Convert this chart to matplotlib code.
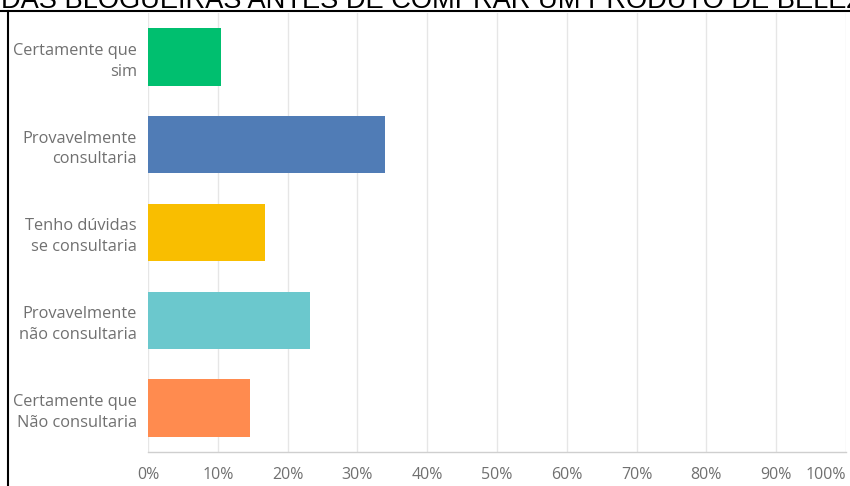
import matplotlib
matplotlib.use("Agg")
import matplotlib.pyplot as plt
from matplotlib.lines import Line2D

categories = [
    "Certamente que\nsim",
    "Provavelmente\nconsultaria",
    "Tenho dúvidas\nse consultaria",
    "Provavelmente\nnão consultaria",
    "Certamente que\nNão consultaria",
]
values = [10.5, 34.0, 16.8, 23.2, 14.6]
colors = ["#00BF6F", "#507CB6", "#F9BE00", "#6BC8CD", "#FF8B4F"]
xticks = [0, 10, 20, 30, 40, 50, 60, 70, 80, 90, 100]
xtick_labels = [f"{t}%" for t in xticks]
title = "DAS BLOGUEIRAS ANTES DE COMPRAR UM PRODUTO DE BELEZA"

W, H = 850, 486
fig = plt.figure(figsize=(W / 100, H / 100), dpi=100)
fig.patch.set_facecolor("white")

ax = fig.add_axes([148 / W, (H - 452) / H, (846 - 148) / W, (452 - 13) / H])
ypos = list(range(len(categories)))
ax.barh(ypos, values, height=0.655, color=colors, zorder=3)
ax.set_ylim(4.5, -0.5)
ax.set_xlim(0, 100)

ax.set_yticks(ypos)
ax.set_yticklabels(categories, fontsize=11.8, color="#707070",
                   family=["Open Sans", "DejaVu Sans"], linespacing=1.4)
ax.set_xticks(xticks)
ax.set_xticklabels(xtick_labels, fontsize=11.5, color="#707070",
                   family=["Open Sans", "DejaVu Sans"])
lbls = ax.get_xticklabels()
lbls[-1].set_horizontalalignment("right")
ax.tick_params(axis="y", length=0, pad=8)
ax.tick_params(axis="x", length=0, pad=11)

ax.grid(axis="x", color="#e6e6e6", linewidth=1.0, zorder=0)
ax.grid(axis="y", visible=False)
for s in ["top", "right", "left"]:
    ax.spines[s].set_visible(False)
ax.spines["bottom"].set_color("#cfcfcf")
ax.spines["bottom"].set_linewidth(1.0)
ax.spines["bottom"].set_zorder(4)
ax.set_facecolor("white")

# Cropped title with underline
fig.text(1 / W, (H - 8) / H, title, fontsize=19.6, family="Liberation Sans",
         color="black", ha="left", va="baseline")
fig.add_artist(Line2D([0, 1], [(H - 11.5) / H] * 2, transform=fig.transFigure,
                      color="black", linewidth=1.5))
# Left frame line
fig.add_artist(Line2D([7.5 / W] * 2, [0, (H - 11.5) / H], transform=fig.transFigure,
                      color="black", linewidth=1.5))

fig.savefig("out.png", dpi=100)
